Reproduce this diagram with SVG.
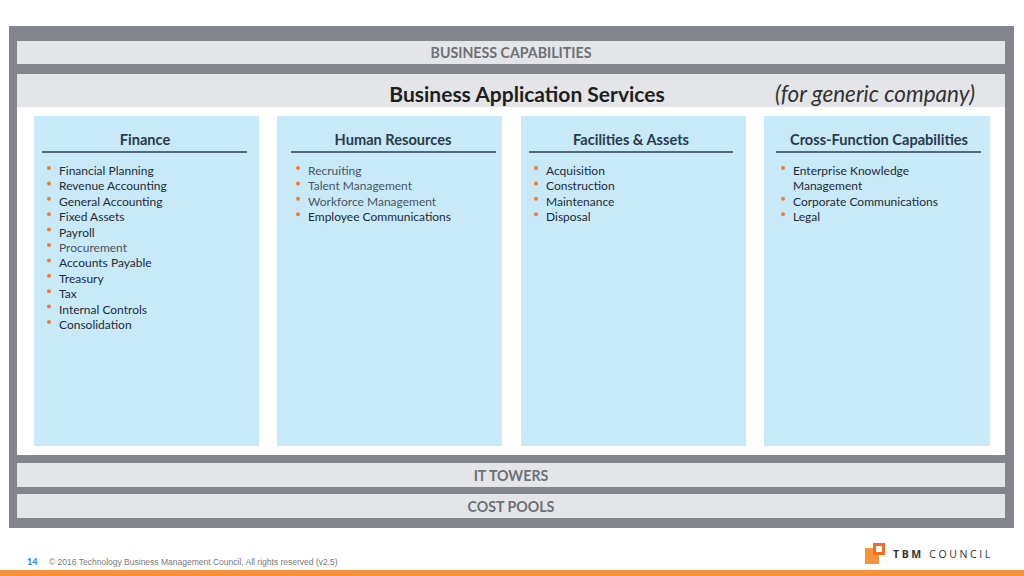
<svg xmlns="http://www.w3.org/2000/svg" width="1024" height="576" viewBox="0 0 1024 576">
<style>
.bar{fill:#e4e5e8}
.bartxt{font-family:Lato,"Liberation Sans",sans-serif;font-weight:bold;font-size:14.2px;fill:#6d7075;text-anchor:middle}
.panel{fill:#c7e9f8}
.ph{font-family:Lato,"Liberation Sans",sans-serif;font-weight:bold;font-size:14.6px;fill:#2a3a4a;text-anchor:middle}
.rule{stroke:#2b3f52;stroke-width:1.3}
.it{font-family:Lato,"Liberation Sans",sans-serif;font-size:12px;fill:#1f2b38}
.it.g{fill:#4a5563}
.dot{fill:#f07b2c}
</style>
<rect x="0" y="0" width="1024" height="576" fill="#ffffff"/>
<rect x="9" y="26" width="1005" height="502" fill="#82868c"/>
<g id="business-capabilities">
<rect class="bar" x="17" y="41" width="988" height="23"/>
<text class="bartxt" x="511" y="58">BUSINESS CAPABILITIES</text>
</g>
<g id="business-application-services">
<rect x="17" y="74" width="988" height="381" fill="#ffffff"/>
<rect x="17" y="74" width="988" height="33" fill="#e4e5e8"/>
<text x="527" y="102" font-family="Lato,'Liberation Sans',sans-serif" font-weight="bold" font-size="21" fill="#1e1e1e" text-anchor="middle">Business Application Services</text>
<text x="875" y="102" font-family="Lato,'Liberation Sans',sans-serif" font-style="italic" font-size="22.5" fill="#333333" text-anchor="middle">(for generic company)</text>
</g>
<g id="finance">
<rect class="panel" x="34" y="116" width="225" height="330"/>
<text class="ph" x="145" y="145">Finance</text>
<line class="rule" x1="42" y1="152" x2="247" y2="152"/>
<g>
<circle class="dot" cx="49" cy="168" r="2"/><text class="it" x="59" y="175">Financial Planning</text>
<circle class="dot" cx="49" cy="183.4" r="2"/><text class="it" x="59" y="190.4">Revenue Accounting</text>
<circle class="dot" cx="49" cy="198.8" r="2"/><text class="it" x="59" y="205.8">General Accounting</text>
<circle class="dot" cx="49" cy="214.2" r="2"/><text class="it" x="59" y="221.2">Fixed Assets</text>
<circle class="dot" cx="49" cy="229.6" r="2"/><text class="it" x="59" y="236.6">Payroll</text>
<circle class="dot" cx="49" cy="245" r="2"/><text class="it g" x="59" y="252">Procurement</text>
<circle class="dot" cx="49" cy="260.4" r="2"/><text class="it" x="59" y="267.4">Accounts Payable</text>
<circle class="dot" cx="49" cy="275.8" r="2"/><text class="it" x="59" y="282.8">Treasury</text>
<circle class="dot" cx="49" cy="291.2" r="2"/><text class="it" x="59" y="298.2">Tax</text>
<circle class="dot" cx="49" cy="306.6" r="2"/><text class="it" x="59" y="313.6">Internal Controls</text>
<circle class="dot" cx="49" cy="322" r="2"/><text class="it" x="59" y="329">Consolidation</text>
</g>
</g>
<g id="human-resources">
<rect class="panel" x="277" y="116" width="225" height="330"/>
<text class="ph" x="393" y="145">Human Resources</text>
<line class="rule" x1="291" y1="152" x2="496" y2="152"/>
<circle class="dot" cx="298" cy="168" r="2"/><text class="it g" x="308" y="175">Recruiting</text>
<circle class="dot" cx="298" cy="183.4" r="2"/><text class="it g" x="308" y="190.4">Talent Management</text>
<circle class="dot" cx="298" cy="198.8" r="2"/><text class="it g" x="308" y="205.8">Workforce Management</text>
<circle class="dot" cx="298" cy="214.2" r="2"/><text class="it" x="308" y="221.2">Employee Communications</text>
</g>
<g id="facilities-assets">
<rect class="panel" x="521" y="116" width="225" height="330"/>
<text class="ph" x="631" y="145">Facilities &amp; Assets</text>
<line class="rule" x1="529" y1="152" x2="733" y2="152"/>
<circle class="dot" cx="536" cy="168" r="2"/><text class="it" x="546" y="175">Acquisition</text>
<circle class="dot" cx="536" cy="183.4" r="2"/><text class="it" x="546" y="190.4">Construction</text>
<circle class="dot" cx="536" cy="198.8" r="2"/><text class="it" x="546" y="205.8">Maintenance</text>
<circle class="dot" cx="536" cy="214.2" r="2"/><text class="it" x="546" y="221.2">Disposal</text>
</g>
<g id="cross-function">
<rect class="panel" x="764" y="116" width="226" height="330"/>
<text class="ph" x="879" y="145">Cross-Function Capabilities</text>
<line class="rule" x1="776" y1="152" x2="981" y2="152"/>
<circle class="dot" cx="783" cy="168" r="2"/><text class="it" x="793" y="175">Enterprise Knowledge</text>
<text class="it" x="793" y="190.4">Management</text>
<circle class="dot" cx="783" cy="198.8" r="2"/><text class="it" x="793" y="205.8">Corporate Communications</text>
<circle class="dot" cx="783" cy="214.2" r="2"/><text class="it" x="793" y="221.2">Legal</text>
</g>
<g id="it-towers">
<rect class="bar" x="17" y="463" width="988" height="24"/>
<text class="bartxt" x="511" y="481">IT TOWERS</text>
</g>
<g id="cost-pools">
<rect class="bar" x="17" y="494" width="988" height="24"/>
<text class="bartxt" x="511" y="512">COST POOLS</text>
</g>
<g id="connectors"></g>
<g id="footer">
<text x="27" y="565" font-family="Lato,'Liberation Sans',sans-serif" font-weight="bold" font-size="9" fill="#1b8ac9">14</text>
<text x="49" y="565" font-family="'Liberation Sans',Arial,sans-serif" font-size="8.5" fill="#7a7a7a">© 2016 Technology Business Management Council, All rights reserved (v2.5)</text>
<rect x="0" y="570" width="1024" height="6" fill="#f7923a"/>
<rect x="865" y="548" width="14" height="16" fill="#f7923a"/>
<rect x="873" y="543" width="12" height="12" fill="#f26b21"/>
<rect x="876" y="546" width="6" height="6" fill="#ffffff"/>
<text x="893" y="558" font-family="'Open Sans','Liberation Sans',sans-serif" font-size="10.5" letter-spacing="2.6" fill="#333333"><tspan font-weight="bold">TBM</tspan> COUNCIL</text>
</g>
</svg>
